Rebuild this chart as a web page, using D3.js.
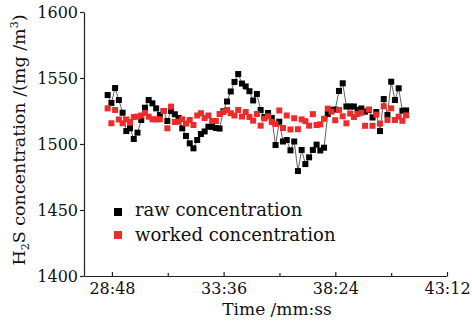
<!DOCTYPE html>
<html><head><meta charset="utf-8">
<script src="https://cdn.jsdelivr.net/npm/d3@7"></script>
<style>
html,body{margin:0;padding:0;background:#fff;}
svg{display:block;font-family:"DejaVu Serif",serif;}
</style></head><body>
<svg id="chart" width="472" height="321"></svg>
<script>
// ---- data ----
const startTime = 1717;      // seconds (first sample, ~28:37)
const sampleInterval = 9.62; // seconds between samples
const rawValues = [
1537.1,1531.1,1542.4,1533.3,1523.7,1509.8,1511.9,1503.8,1508.6,1518.2,
1527.5,1533.3,1530.8,1527.0,1522.0,1525.0,1517.4,1525.0,1522.5,1519.7,
1511.9,1506.1,1500.5,1496.7,1503.0,1507.6,1509.5,1513.1,1512.9,1512.1,
1511.7,1524.8,1532.2,1539.8,1547.0,1553.0,1545.8,1543.6,1540.0,1533.0,
1537.9,1525.8,1520.5,1523.5,1519.7,1499.2,1516.9,1501.9,1503.0,1495.2,
1501.9,1479.5,1495.5,1484.8,1489.9,1495.5,1499.5,1495.1,1497.2,1522.7,
1525.8,1526.1,1540.2,1546.0,1528.4,1528.4,1528.4,1525.8,1526.9,1524.5,
1525.8,1520.1,1524.2,1509.8,1534.1,1522.0,1547.2,1533.3,1542.2,1525.2,
1525.4];
const workedValues = [
1527.0,1515.7,1525.8,1518.6,1515.7,1518.6,1516.7,1520.5,1520.7,1521.6,
1523.5,1520.7,1518.7,1518.7,1518.7,1525.0,1511.9,1528.3,1516.7,1516.9,
1518.7,1515.5,1518.2,1514.4,1521.6,1523.3,1519.7,1521.6,1517.4,1517.4,
1522.7,1524.2,1525.8,1523.3,1521.6,1525.8,1520.8,1524.2,1520.5,1517.7,
1522.7,1513.9,1519.3,1521.0,1516.7,1515.2,1525.4,1512.1,1521.6,1511.0,
1519.5,1511.2,1518.6,1517.3,1513.9,1522.6,1514.4,1514.9,1519.1,1526.8,
1524.5,1518.0,1525.8,1521.0,1515.7,1523.1,1520.5,1522.7,1523.7,1513.8,
1526.1,1513.8,1522.3,1515.5,1528.6,1518.2,1527.0,1518.2,1520.7,1517.6,
1521.7];
const xTickLabels = ["28:48","33:36","38:24","43:12"];
const yTickValues = [1400,1450,1500,1550,1600];
const seriesNames = ["raw concentration","worked concentration"];
const seriesColors = ["#000000","#ea2c2a"];
const xDomain = [1656, 2592];
const yDomain = [1400, 1600];

// ---- chart ----
const svg = d3.select("#chart");
const x = d3.scaleLinear().domain(xDomain).range([84, 447]);
const y = d3.scaleLinear().domain(yDomain).range([276, 12]);
const toSec = s => { const [m, ss] = s.split(":").map(Number); return m*60+ss; };
const fmt = t => { const m = Math.floor(t/60), s = Math.round(t%60); return m + ":" + String(s).padStart(2,"0"); };
const majorTicks = xTickLabels.map(toSec);
const minorTicks = majorTicks.slice(1).map((t,i)=> (t+majorTicks[i])/2);

const raw = rawValues.map((v,i)=>({t:startTime+i*sampleInterval, v}));
const worked = workedValues.map((v,i)=>({t:startTime+i*sampleInterval, v}));

// axes
const axColor = "#222";
const gx = svg.append("g").attr("transform","translate(0,276)")
  .call(d3.axisBottom(x).tickValues(majorTicks).tickFormat(fmt).tickSize(-4).tickSizeOuter(0).tickPadding(7));
const gxm = svg.append("g").attr("transform","translate(0,276)")
  .call(d3.axisBottom(x).tickValues(minorTicks).tickFormat("").tickSize(-3).tickSizeOuter(0));
gxm.select(".domain").remove();
const gy = svg.append("g").attr("transform","translate(84,0)")
  .call(d3.axisLeft(y).tickValues(yTickValues).tickFormat(d3.format("d")).tickSize(4).tickSizeOuter(0).tickPadding(2));
[gx,gxm,gy].forEach(g=>{
  g.selectAll("path,line").attr("stroke",axColor).attr("stroke-width",1.2);
  g.selectAll("text").attr("fill","#111").style("font-family","'DejaVu Serif',serif").style("font-size","16px");
});

// line for raw series
svg.append("path").datum(raw)
  .attr("fill","none").attr("stroke","#3a3a3a").attr("stroke-width",0.8)
  .attr("d", d3.line().x(d=>x(d.t)).y(d=>y(d.v)));

const sq = 6;
svg.append("g").selectAll("rect").data(raw).join("rect")
  .attr("x",d=>x(d.t)-sq/2).attr("y",d=>y(d.v)-sq/2)
  .attr("width",sq).attr("height",sq).attr("fill",seriesColors[0]);
svg.append("g").selectAll("rect").data(worked).join("rect")
  .attr("x",d=>x(d.t)-sq/2).attr("y",d=>y(d.v)-sq/2)
  .attr("width",sq).attr("height",sq).attr("fill",seriesColors[1]);

// legend
const leg = svg.append("g");
seriesNames.forEach((name,i)=>{
  leg.append("rect").attr("x",114).attr("y",208+i*23).attr("width",8).attr("height",8).attr("fill",seriesColors[i]);
  leg.append("text").attr("x",135).attr("y",215.5+i*25).attr("font-size",18).attr("fill","#111").text(name);
});

// axis titles
svg.append("text").attr("x",277).attr("y",315).attr("text-anchor","middle")
  .attr("font-size",17).attr("fill","#111").text("Time /mm:ss");
const yt = svg.append("text").attr("transform","translate(25,140) rotate(-90)")
  .attr("text-anchor","middle").attr("font-size",17.5).attr("fill","#111");
yt.append("tspan").text("H");
yt.append("tspan").attr("dy",4).attr("font-size",11).text("2");
yt.append("tspan").attr("dy",-4).text("S concentration /(mg /m");
yt.append("tspan").attr("dy",-7).attr("font-size",11).text("3");
yt.append("tspan").attr("dy",7).text(")");
</script>
</body></html>
